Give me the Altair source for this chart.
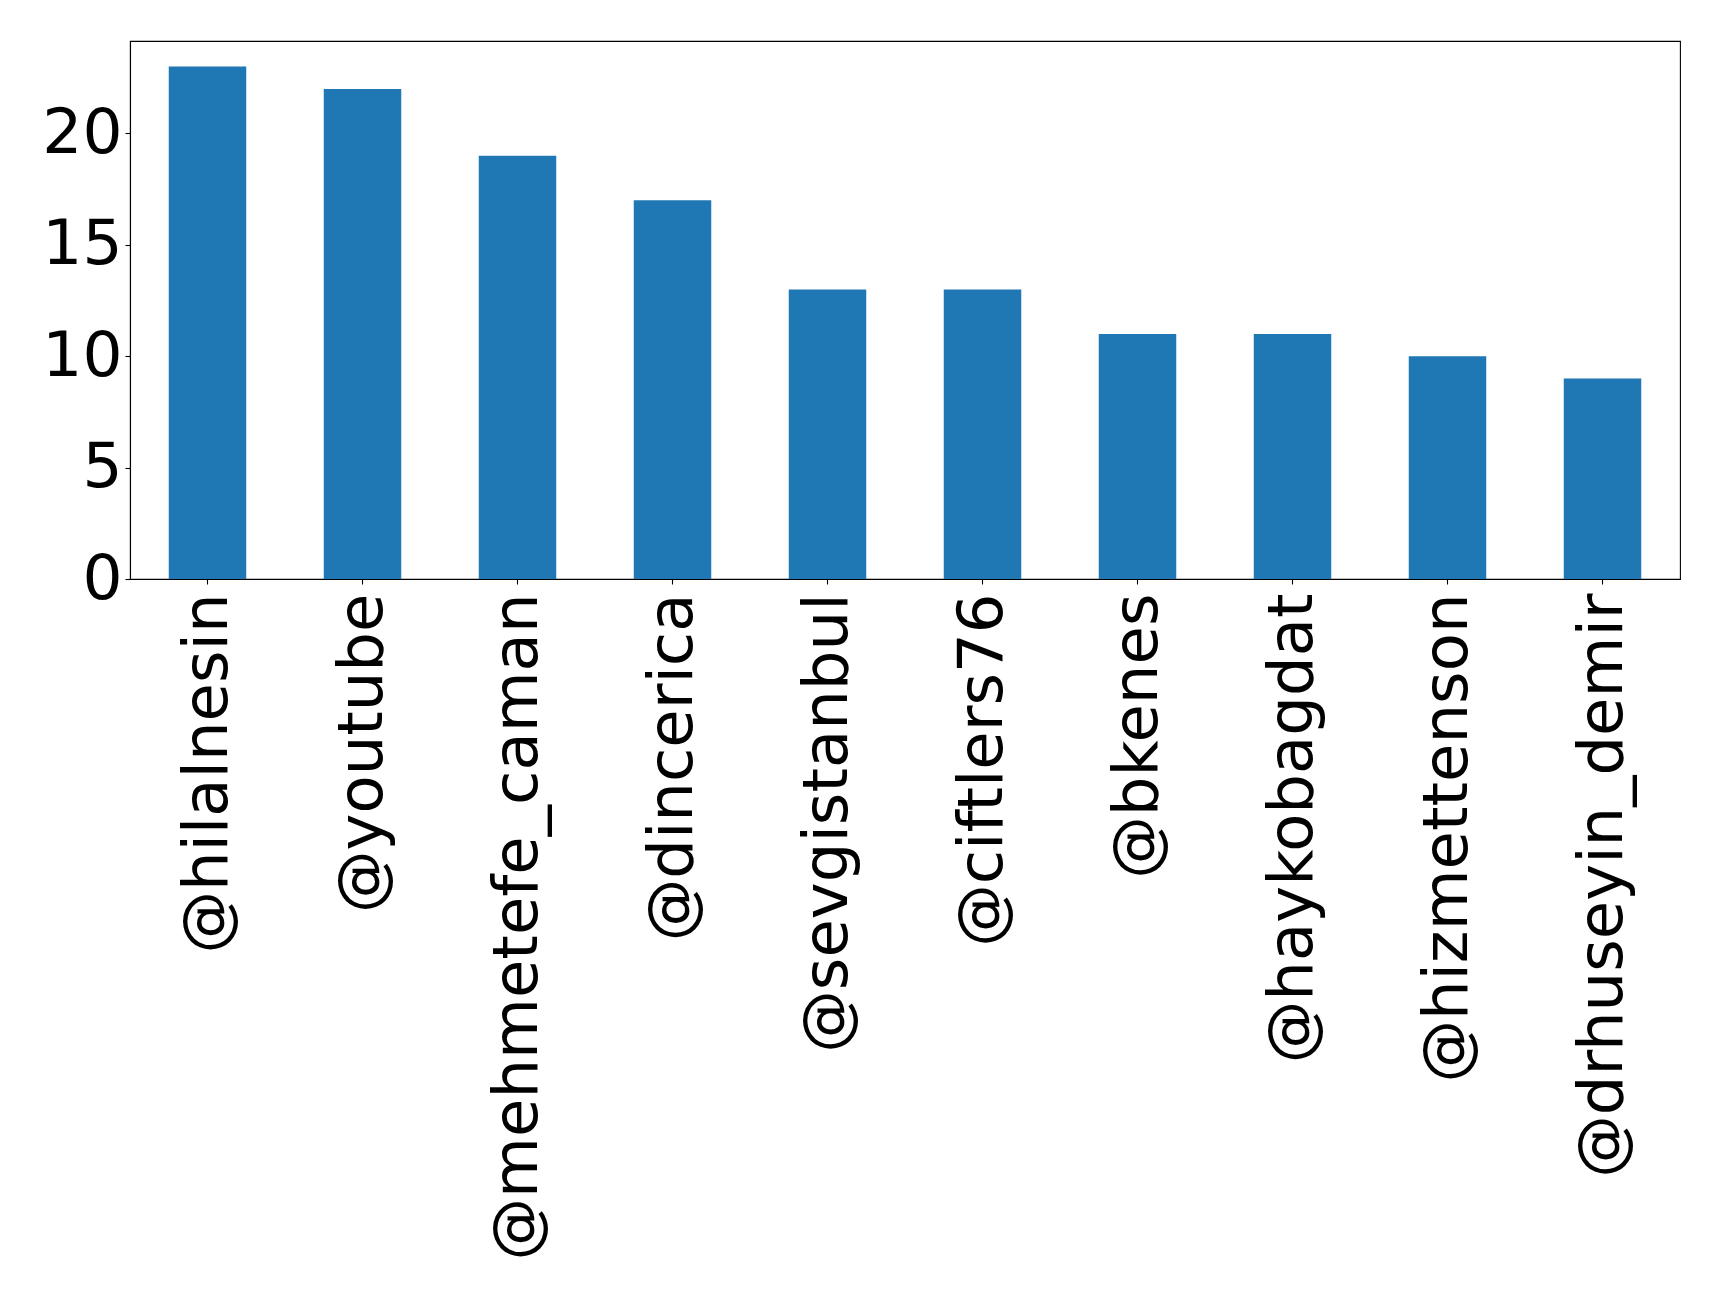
import altair as alt
import pandas as pd

# Most-mentioned accounts and their mention counts
accounts = [
    "@hilalnesin", "@youtube", "@mehmetefe_caman", "@dincerica", "@sevgistanbul",
    "@ciftlers76", "@bkenes", "@haykobagdat", "@hizmettenson", "@drhuseyin_demir",
]
counts = [23, 22, 19, 17, 13, 13, 11, 11, 10, 9]

df = pd.DataFrame({"account": accounts, "count": counts})

FONT = "DejaVu Sans"
BLUE = "#1f77b4"

bars = (
    alt.Chart(df)
    .mark_bar(color=BLUE)
    .encode(
        x=alt.X(
            "account:N",
            sort=None,
            title=None,
            scale=alt.Scale(paddingInner=0.5, paddingOuter=0.25),
            axis=alt.Axis(
                labelAngle=-90,
                labelAlign="right",
                labelBaseline="middle",
                labelFontSize=62.5,
                labelPadding=9,
                labelLimit=2000,
                tickSize=5,
                labelFont=FONT,
            ),
        ),
        y=alt.Y(
            "count:Q",
            title=None,
            scale=alt.Scale(domain=[0, 24.15], nice=False, zero=True),
            axis=alt.Axis(
                values=[0, 5, 10, 15, 20],
                labelFontSize=63,
                labelPadding=3,
                tickSize=5,
                grid=False,
                labelFont=FONT,
            ),
        ),
    )
)

chart = (
    bars.properties(
        width=1550,
        height=538,
        autosize=alt.AutoSizeParams(type="none"),
        padding={"left": 130, "top": 41, "right": 39, "bottom": 716},
        background="white",
    )
    .configure_axis(
        domainColor="black",
        domainWidth=1.1,
        tickColor="black",
        tickWidth=1.1,
        labelColor="black",
        grid=False,
    )
    .configure_view(stroke="black", strokeWidth=1.1)
)

chart.save("out.html", embed_options={"renderer": "svg", "actions": False})
